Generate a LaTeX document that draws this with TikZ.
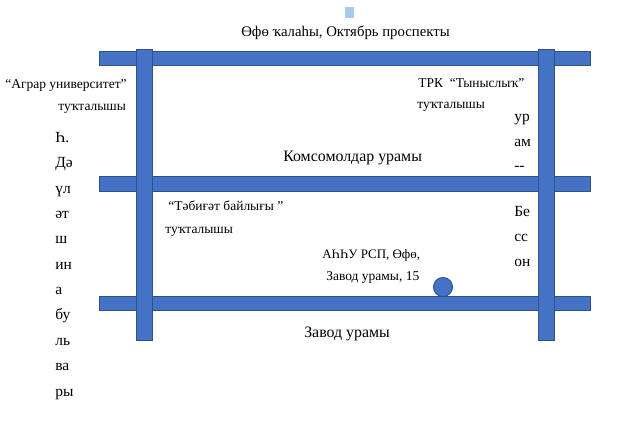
\documentclass[tikz,border=0pt]{standalone}
\usepackage{fontspec}
\setmainfont{Liberation Serif}
\usepackage{xcolor}
\definecolor{roadfill}{HTML}{4472C4}
\definecolor{roadedge}{HTML}{2F528F}
\definecolor{markfill}{HTML}{A9C8EC}
\tikzset{
  road/.style={draw=roadedge,fill=roadfill,line width=0.7pt},
  lbl/.style={inner sep=0pt,anchor=base west,font=\fontsize{9.6}{11}\selectfont},
  bigger/.style={lbl,font=\fontsize{11.3}{13}\selectfont},
  syll/.style={lbl,font=\fontsize{11}{13}\selectfont},
}
\begin{document}
\begin{tikzpicture}[x=0.025cm,y=-0.025cm]
        \newcommand{\roadxstart}{99.5}
        \newcommand{\roadxend}{590.5}
        \newcommand{\crossystart}{49}
        \newcommand{\crossyend}{340}
        \useasboundingbox (0,0) rectangle (620,427);
        \fill[markfill] (345,7) rectangle (354,18);
        \draw[road] (\roadxstart,51) rectangle (\roadxend,65);
        \draw[road] (\roadxstart,176.5) rectangle (\roadxend,191);
        \draw[road] (\roadxstart,296.5) rectangle (\roadxend,310);
        \draw[road] (136.5,\crossystart) rectangle (152.5,\crossyend);
        \draw[road] (538.5,\crossystart) rectangle (554.5,\crossyend);
        \draw[road] (443,287) circle (9.5);
        \node[lbl,font=\fontsize{10.5}{12}\selectfont] (title) at (241,37) {Өфө ҡалаһы, Октябрь проспекты};
        \node[lbl] (agrar) at (5,89) {“Аграр университет”};
        \node[lbl] (agrarstop) at (58,111) {туҡталышы};
        \node[lbl] (trk) at (418,88) {ТРК\ \ “Тыныслыҡ”};
        \node[lbl] (trkstop) at (417,109) {туҡталышы};
        \node[bigger] (komsomol) at (283,162) {Комсомолдар урамы};
        \node[lbl] (tabigat) at (168,211) {“Тәбиғәт байлығы ”};
        \node[lbl] (tabigatstop) at (165,233) {туҡталышы};
        \node[lbl,font=\fontsize{9.2}{11}\selectfont] (ashu) at (322,259) {АҺҺУ\ РСП, Өфө,};
        \node[lbl] (zavodnum) at (326,280) {Завод урамы, 15};
        \node[bigger] (zavod) at (304,337) {Завод урамы};
        \foreach \syl [count=\i from 0] in {Һ.,Дә,үл,әт,ш,ин,а,бу,ль,ва,ры}
          \node[syll] (left\i) at (55,142.5+25.35*\i) {\syl};
        \foreach \syl/\ypos [count=\i] in {ур/122,ам/147,-{}-/171,Бе/217,сс/242,он/267}
          \node[syll] (right\i) at (514,\ypos) {\syl};
\end{tikzpicture}
\end{document}
